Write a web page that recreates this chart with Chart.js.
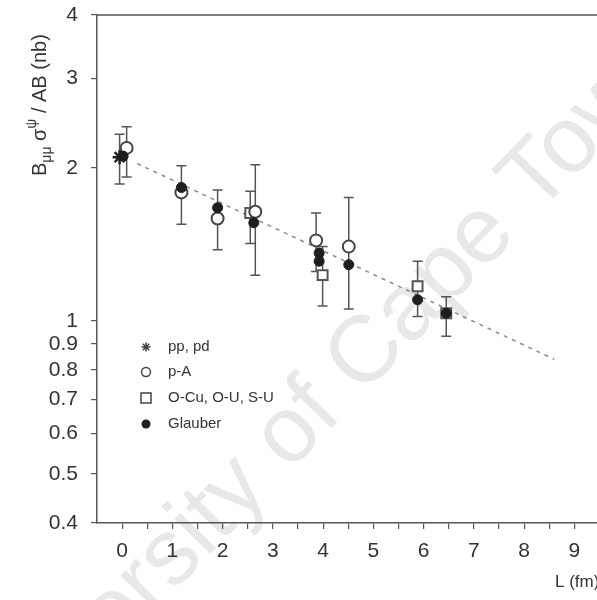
<!DOCTYPE html>
<html>
<head>
<meta charset="utf-8">
<script src="https://cdn.jsdelivr.net/npm/chart.js@4.4.1/dist/chart.umd.min.js"></script>
<style>
  body { margin: 0; background: #fff; }
</style>
</head>
<body>
<canvas id="chart" width="597" height="600"></canvas>
<script>
// tick lists
const xTicks = [0, 0.5, 1, 1.5, 2, 2.5, 3, 3.5, 4, 4.5, 5, 5.5, 6, 6.5, 7, 7.5, 8, 8.5, 9];
const yTicks = [0.4, 0.5, 0.6, 0.7, 0.8, 0.9, 1, 2, 3, 4];

// pp, pd
const ppL   = [-0.05];
const ppVal = [2.10];
const ppLo  = [1.86];
const ppHi  = [2.33];

// p-A
const pAL   = [0.09, 1.18, 1.90, 2.65, 3.86, 4.51];
const pAVal = [2.19, 1.79, 1.59, 1.64, 1.44, 1.40];
const pALo  = [1.92, 1.55, 1.38, 1.23, 1.25, 1.055];
const pAHi  = [2.41, 2.02, 1.81, 2.03, 1.63, 1.75];

// O-Cu, O-U, S-U
const heavyL   = [2.55, 3.99, 5.88, 6.45];
const heavyVal = [1.63, 1.23, 1.17, 1.035];
const heavyLo  = [1.42, 1.07, 1.02, 0.933];
const heavyHi  = [1.80, 1.40, 1.31, 1.115];

// Glauber
const glauberL   = [0.02, 1.18, 1.90, 2.62, 3.92, 3.92, 4.51, 5.88, 6.45];
const glauberVal = [2.11, 1.83, 1.67, 1.56, 1.36, 1.31, 1.29, 1.10, 1.035];

// fit line
const fitL   = [0.3, 8.6];
const fitVal = [2.04, 0.84];

const pts = (xs, ys) => xs.map((x, i) => ({ x: x, y: ys[i] }));

const errorBars = {
  id: 'errorBars',
  beforeDatasetsDraw(chart) {
    const ctx = chart.ctx, sx = chart.scales.x, sy = chart.scales.y;
    ctx.save();
    ctx.strokeStyle = '#555';
    ctx.lineWidth = 1.5;
    chart.data.datasets.forEach(ds => {
      if (!ds.errLo) return;
      ds.data.forEach((p, i) => {
        const px = sx.getPixelForValue(p.x);
        const top = sy.getPixelForValue(ds.errHi[i]);
        const bot = sy.getPixelForValue(ds.errLo[i]);
        ctx.beginPath();
        ctx.moveTo(px, top); ctx.lineTo(px, bot);
        ctx.moveTo(px - 5, top); ctx.lineTo(px + 5, top);
        ctx.moveTo(px - 5, bot); ctx.lineTo(px + 5, bot);
        ctx.stroke();
      });
    });
    ctx.restore();
  }
};

function drawStar(ctx, x, y, r) {
  ctx.beginPath();
  for (let k = 0; k < 4; k++) {
    const a = k * Math.PI / 4;
    ctx.moveTo(x - r * Math.cos(a), y - r * Math.sin(a));
    ctx.lineTo(x + r * Math.cos(a), y + r * Math.sin(a));
  }
  ctx.stroke();
}

const decorations = {
  id: 'decorations',
  beforeDraw(chart) {
    const ctx = chart.ctx;
    ctx.save();
    ctx.fillStyle = '#fff';
    ctx.fillRect(0, 0, chart.width, chart.height);
    // watermark
    ctx.translate(318, 405);
    ctx.rotate(-46 * Math.PI / 180);
    ctx.fillStyle = '#e8e8e8';
    ctx.font = '94px "Liberation Sans", Arial, sans-serif';
    ctx.textAlign = 'center';
    ctx.textBaseline = 'middle';
    ctx.fillText('University of Cape Town', 0, 0);
    ctx.restore();
  },
  afterDraw(chart) {
    const ctx = chart.ctx, a = chart.chartArea;
    ctx.save();
    // top frame
    ctx.strokeStyle = '#555';
    ctx.lineWidth = 1.5;
    ctx.beginPath();
    ctx.moveTo(a.left, a.top); ctx.lineTo(a.right, a.top);
    ctx.stroke();

    // y title with sub/superscripts
    ctx.fillStyle = '#333';
    ctx.translate(40, 176);
    ctx.rotate(-Math.PI / 2);
    ctx.textBaseline = 'middle';
    ctx.textAlign = 'left';
    let cx = 0;
    const big = '20px "Liberation Sans", Arial, sans-serif';
    const small = '14px "Liberation Sans", Arial, sans-serif';
    const part = (t, f, dy) => { ctx.font = f; ctx.fillText(t, cx, dy); cx += ctx.measureText(t).width; };
    part('B', big, 0);
    part('μμ', small, 7);
    part(' σ', big, 0);
    part('ψ', small, -8);
    part(' / AB (nb)', big, 0);
    ctx.restore();

    // x title
    ctx.save();
    ctx.fillStyle = '#333';
    ctx.font = '17px "Liberation Sans", Arial, sans-serif';
    ctx.textBaseline = 'middle';
    ctx.fillText('L (fm)', 555, 582);

    // legend
    const rows = [347, 372, 398, 424];
    const sxp = 146, tx = 168;
    ctx.font = '15px "Liberation Sans", Arial, sans-serif';
    ctx.fillStyle = '#333';
    ctx.fillText('pp, pd', tx, rows[0]);
    ctx.fillText('p-A', tx, rows[1]);
    ctx.fillText('O-Cu, O-U, S-U', tx, rows[2]);
    ctx.fillText('Glauber', tx, rows[3]);
    ctx.strokeStyle = '#444';
    ctx.lineWidth = 1.5;
    drawStar(ctx, sxp, rows[0], 4.5);
    ctx.beginPath(); ctx.arc(sxp, rows[1], 4.5, 0, Math.PI * 2); ctx.stroke();
    ctx.strokeRect(sxp - 5, rows[2] - 5, 10, 10);
    ctx.fillStyle = '#222';
    ctx.beginPath(); ctx.arc(sxp, rows[3], 4.5, 0, Math.PI * 2); ctx.fill();
    ctx.restore();
  }
};

new Chart(document.getElementById('chart'), {
  type: 'scatter',
  data: {
    datasets: [
      {
        label: 'Glauber',
        data: pts(glauberL, glauberVal),
        pointStyle: 'circle',
        pointRadius: 5,
        backgroundColor: '#1e1e1e',
        borderColor: '#1e1e1e',
        borderWidth: 1
      },
      {
        label: 'pp, pd',
        data: pts(ppL, ppVal),
        errLo: ppLo, errHi: ppHi,
        pointStyle: 'star',
        pointRadius: 7,
        borderColor: '#222',
        borderWidth: 2.5
      },
      {
        label: 'p-A',
        data: pts(pAL, pAVal),
        errLo: pALo, errHi: pAHi,
        pointStyle: 'circle',
        pointRadius: 6,
        backgroundColor: '#fff',
        borderColor: '#444',
        borderWidth: 2
      },
      {
        label: 'O-Cu, O-U, S-U',
        data: pts(heavyL, heavyVal),
        errLo: heavyLo, errHi: heavyHi,
        pointStyle: 'rect',
        pointRadius: 7,
        backgroundColor: '#fff',
        borderColor: '#555',
        borderWidth: 2
      },
      {
        type: 'line',
        label: 'fit',
        data: pts(fitL, fitVal),
        borderColor: '#8a8a8a',
        borderWidth: 1.5,
        borderDash: [4, 5],
        pointRadius: 0,
        fill: false
      }
    ]
  },
  options: {
    responsive: false,
    animation: false,
    layout: { autoPadding: false, padding: { top: 15, right: 0, bottom: 0, left: 0 } },
    plugins: {
      legend: { display: false },
      tooltip: { enabled: false }
    },
    scales: {
      x: {
        type: 'linear',
        min: -0.5,
        max: 9.45,
        afterBuildTicks: s => { s.ticks = xTicks.map(v => ({ value: v })); },
        afterFit: s => { s.height = 77; s.paddingLeft = 0; s.paddingRight = 0; },
        ticks: {
          autoSkip: false,
          maxRotation: 0,
          padding: 10,
          color: '#333',
          font: { family: '"Liberation Sans", Arial, sans-serif', size: 21 },
          callback: v => Number.isInteger(v) ? String(v) : ''
        },
        grid: { drawOnChartArea: false, tickLength: 6, color: '#555', lineWidth: 1.2 },
        border: { display: true, color: '#555', width: 1.5 }
      },
      y: {
        type: 'logarithmic',
        min: 0.4,
        max: 4,
        afterBuildTicks: s => { s.ticks = yTicks.map(v => ({ value: v })); },
        afterFit: s => { s.width = 97; s.paddingTop = 0; s.paddingBottom = 0; },
        ticks: {
          autoSkip: false,
          padding: 13,
          color: '#333',
          font: { family: '"Liberation Sans", Arial, sans-serif', size: 21 },
          callback: v => String(v)
        },
        grid: { drawOnChartArea: false, tickLength: 6, color: '#555', lineWidth: 1.2 },
        border: { display: true, color: '#555', width: 1.5 }
      }
    }
  },
  plugins: [errorBars, decorations]
});
</script>
</body>
</html>
